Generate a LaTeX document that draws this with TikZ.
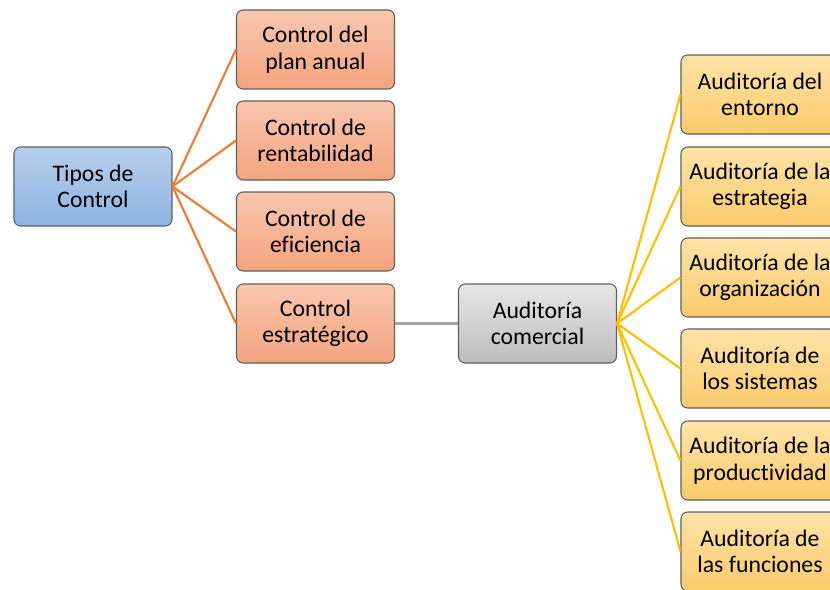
\documentclass[tikz,border=0pt]{standalone}
\usepackage{fontspec}
\setmainfont[Ligatures={NoCommon}]{Carlito}
\definecolor{blueTop}{HTML}{B7CFEC}
\definecolor{blueBot}{HTML}{8DB3E2}
\definecolor{orTop}{HTML}{F9C6AE}
\definecolor{orBot}{HTML}{F4A47F}
\definecolor{grTop}{HTML}{E6E6E6}
\definecolor{grBot}{HTML}{BDBDBD}
\definecolor{yeTop}{HTML}{FEE3A8}
\definecolor{yeBot}{HTML}{FBCB6C}
\definecolor{boxLine}{HTML}{5F5F5F}
\definecolor{orLink}{HTML}{ED7D31}
\definecolor{grLink}{HTML}{A5A5A5}
\definecolor{yeLink}{HTML}{FFC000}
\tikzset{
  card/.style={draw=boxLine, line width=0.8pt, rounded corners=5pt,
    minimum width=118.5pt, minimum height=59.25pt, align=center,
    inner sep=1pt, font=\fontsize{17.8}{19.8}\selectfont},
  bluecard/.style={card, top color=blueTop, bottom color=blueBot},
  orcard/.style={card, top color=orTop, bottom color=orBot},
  grcard/.style={card, top color=grTop, bottom color=grBot},
  yecard/.style={card, top color=yeTop, bottom color=yeBot},
  orlink/.style={draw=orLink, line width=1.6pt},
  grlink/.style={draw=grLink, line width=1.6pt},
  yelink/.style={draw=yeLink, line width=1.6pt}
}
\begin{document}
\begin{tikzpicture}[x=0.75pt,y=-0.75pt]
\useasboundingbox (0,0) rectangle (830,589);
\clip (0,0) rectangle (830,589);
\fill[white] (0,0) rectangle (830,589);

% root
\node[bluecard] (tipos) at (93,186.5) {Tipos de\\Control};

% control types
\node[orcard] (plan)  at (315.5,49.5)  {Control del\\plan anual};
\node[orcard] (rent)  at (315.5,140.5) {Control de\\rentabilidad};
\node[orcard] (efic)  at (315.5,231.5) {Control de\\eficiencia};
\node[orcard] (estr)  at (315.5,323.5) {Control\\estratégico};

% commercial audit
\node[grcard] (audit) at (537.5,323.5) {Auditoría\\comercial};

% audit areas
\node[yecard] (ent)  at (760,94.5)  {Auditoría del\\entorno};
\node[yecard] (est)  at (760,186.5) {Auditoría de la\\estrategia};
\node[yecard] (org)  at (760,277.5) {Auditoría de la\\organización};
\node[yecard] (sis)  at (760,368.5) {Auditoría de\\los sistemas};
\node[yecard] (prod) at (760,460.5) {Auditoría de la\\productividad};
\node[yecard] (fun)  at (760,551.5) {Auditoría de\\las funciones};

% links
\foreach \c in {plan,rent,efic,estr}
  \draw[orlink] (tipos.east) -- (\c.west);
\draw[grlink] (estr.east) -- (audit.west);
\foreach \c in {ent,est,org,sis,prod,fun}
  \draw[yelink] (audit.east) -- (\c.west);
\end{tikzpicture}
\end{document}
